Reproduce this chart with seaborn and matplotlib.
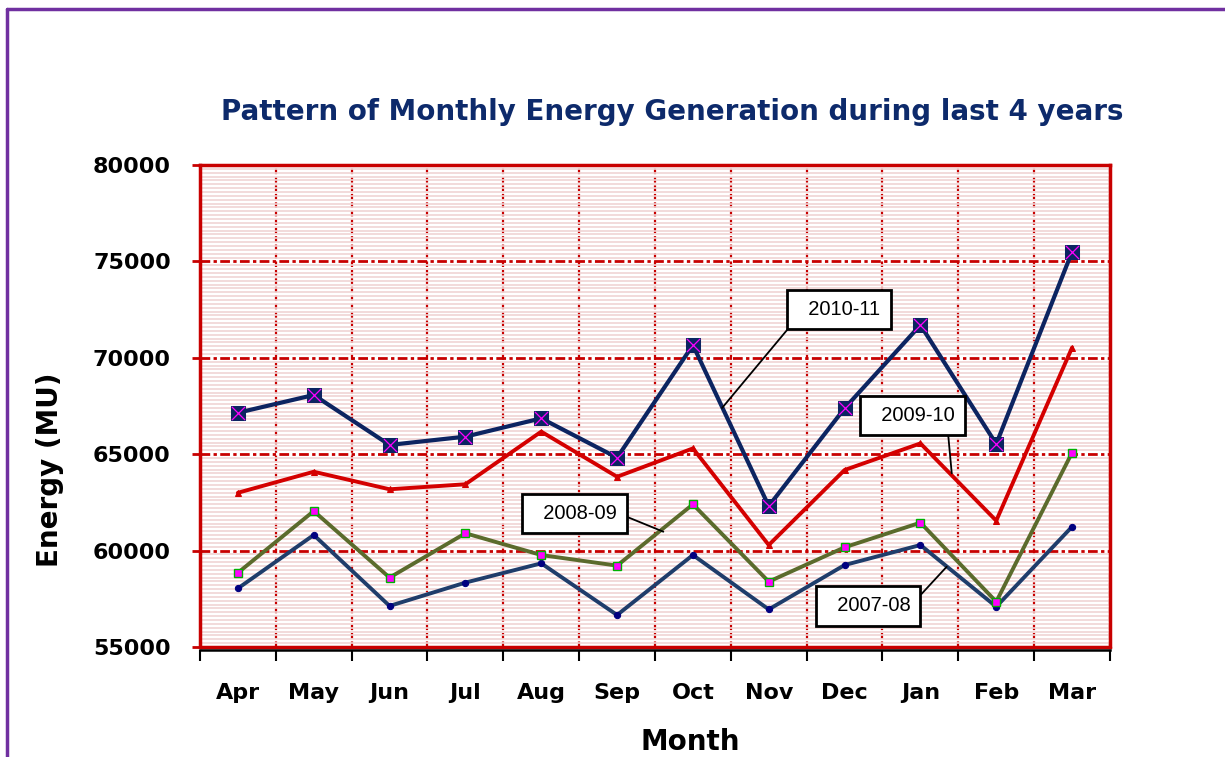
import numpy as np
import pandas as pd
import seaborn as sns
import matplotlib.pyplot as plt
from matplotlib.lines import Line2D
from matplotlib.ticker import MultipleLocator, FixedLocator

sns.set_theme(style='white')
plt.rcParams['font.family'] = ['DejaVu Sans']
plt.rcParams['font.weight'] = 'bold'
plt.rcParams['xtick.labelsize'] = 16
plt.rcParams['ytick.labelsize'] = 16

months = ['Apr', 'May', 'Jun', 'Jul', 'Aug', 'Sep', 'Oct', 'Nov', 'Dec', 'Jan', 'Feb', 'Mar']
gen_2010_11 = [67150, 68070, 65480, 65910, 66860, 64820, 70660, 62310, 67380, 71700, 65530, 75500]
gen_2009_10 = [63000, 64090, 63180, 63440, 66170, 63830, 65300, 60290, 64180, 65560, 61550, 70530]
gen_2008_09 = [58850, 62050, 58600, 60900, 59770, 59220, 62400, 58390, 60170, 61450, 57350, 65080]
gen_2007_08 = [58040, 60810, 57130, 58340, 59340, 56660, 59770, 56950, 59250, 60290, 57090, 61240]

RED = '#c80000'
x = np.arange(len(months))

fig = plt.figure(figsize=(12.25, 7.57), dpi=100)
ax = fig.add_axes([200 / 1225, 110 / 757, 910 / 1225, 482 / 757])
ax.set_facecolor('white')

# series
sns.lineplot(x=x, y=gen_2007_08, color='#1f3d6b', linewidth=2.8, marker='o', markersize=4.5,
             markerfacecolor='#000080', markeredgecolor='#000080', ax=ax, zorder=3)
sns.lineplot(x=x, y=gen_2008_09, color='#5b6b2c', linewidth=2.8, marker='s', markersize=5.5,
             markerfacecolor='#ff00ff', markeredgecolor='#00b000', markeredgewidth=1, ax=ax, zorder=4)
sns.lineplot(x=x, y=gen_2009_10, color='#d40000', linewidth=2.8, marker='^', markersize=5,
             markerfacecolor='#d40000', markeredgecolor='#d40000', ax=ax, zorder=5)
sns.lineplot(x=x, y=gen_2010_11, color='#0c2461', linewidth=3.0, marker='s', markersize=10,
             markerfacecolor='#0c2461', markeredgecolor='#0c2461', ax=ax, zorder=6)
sns.scatterplot(x=x, y=gen_2010_11, marker='x', color='#ff00ff', s=90, linewidth=0.9, ax=ax, zorder=7)

# axes limits and ticks
ax.set_xlim(-0.5, 11.5)
ax.set_ylim(55000, 80000)
ax.yaxis.set_major_locator(MultipleLocator(5000))
ax.yaxis.set_minor_locator(MultipleLocator(200))
ax.set_xticks(x)
ax.set_xticklabels(months)
ax.xaxis.set_minor_locator(FixedLocator(np.arange(-0.5, 12, 1)))

ax.set_axisbelow(True)
ax.yaxis.grid(True, which='minor', color='#f0d4d4', linewidth=1.2)
ax.yaxis.grid(True, which='major', color=RED, linewidth=2.0, linestyle=(0, (3.5, 1.2, 1.2, 1.2)))
ax.xaxis.grid(True, which='minor', color=RED, linewidth=1.6, linestyle=(0, (2.5, 1.3)))
ax.xaxis.grid(False, which='major')

ax.tick_params(axis='y', which='major', direction='out', length=6, width=2, color=RED,
               labelcolor='black', pad=15, left=True)
ax.tick_params(axis='y', which='minor', length=0)
ax.tick_params(axis='x', which='major', length=0, pad=24, labelcolor='black')
ax.tick_params(axis='x', which='minor', direction='out', length=8, width=1.5, color='black', bottom=True)

for side in ['left', 'top', 'right']:
    ax.spines[side].set_color(RED)
    ax.spines[side].set_linewidth(2.5)
ax.spines['bottom'].set_color('black')
ax.spines['bottom'].set_linewidth(1.8)
ax.spines['bottom'].set_position(('outward', 2))
ax.axhline(55000, color=RED, linewidth=2.5, clip_on=False, zorder=2)
ax.set_xlabel('')
ax.set_ylabel('')

# callout labels
box = dict(boxstyle='square,pad=0.5', facecolor='white', edgecolor='black', linewidth=2.0)
callouts = [
    ('  2010-11', (6.384, 67396), (7.927, 72505), (0.0, 0.08)),
    ('  2009-10', (9.413, 64009), (8.896, 67007), (0.91, 0.0)),
    ('  2008-09', (5.610, 60980), (4.432, 61924), (1.0, 0.55)),
    ('  2007-08', (9.347, 59165), (8.309, 57127), (1.0, 0.5)),
]
for label, xy, xytext, rel in callouts:
    ax.annotate(label, xy=xy, xytext=xytext, textcoords='data', ha='center', va='center',
                fontsize=14.5, family='Liberation Sans', fontweight='normal', color='black',
                bbox=box, zorder=10,
                arrowprops=dict(arrowstyle='-', color='black', lw=1.3, shrinkA=0, shrinkB=0,
                                relpos=rel))

# titles
fig.text(672 / 1225, 1 - 112 / 757, 'Pattern of Monthly Energy Generation during last 4 years',
         ha='center', va='center', fontsize=20, fontweight='bold', color='#0d2a6b')
fig.text(50 / 1225, 1 - 470 / 757, 'Energy (MU)', rotation=90, ha='center', va='center',
         fontsize=20, fontweight='bold', color='black')
fig.text(690 / 1225, 1 - 742 / 757, 'Month', ha='center', va='center',
         fontsize=20, fontweight='bold', color='black')

# purple frame
fig.add_artist(Line2D([6.5 / 1225, 6.5 / 1225], [0, 1 - 8.5 / 757], color='#7030a0', linewidth=2.5,
                      transform=fig.transFigure))
fig.add_artist(Line2D([6.5 / 1225, 1], [1 - 8.5 / 757, 1 - 8.5 / 757], color='#7030a0', linewidth=2.5,
                      transform=fig.transFigure))

fig.savefig('out.png', dpi=100)
